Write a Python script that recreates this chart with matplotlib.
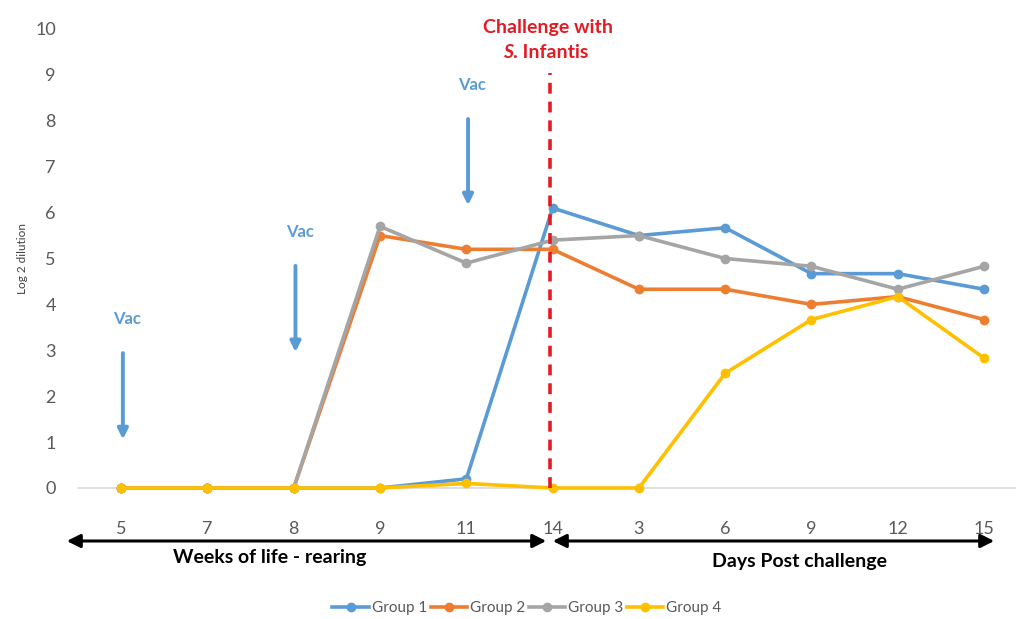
import numpy as np
import matplotlib
matplotlib.use("Agg")
from matplotlib import pyplot as plt

plt.rcParams['font.family'] = ['Lato', 'DejaVu Sans']

# подписи оси X (недели выращивания, затем дни после заражения)
x_labels = ["5", "7", "8", "9", "11", "14", "3", "6", "9", "12", "15"]

group1 = [0, 0, 0, 0, 0.2, 6.1, 5.5, 5.67, 4.67, 4.67, 4.33]
group2 = [0, 0, 0, 5.5, 5.2, 5.2, 4.33, 4.33, 4.0, 4.17, 3.67]
group3 = [0, 0, 0, 5.7, 4.9, 5.4, 5.5, 5.0, 4.83, 4.33, 4.83]
group4 = [0, 0, 0, 0, 0.1, 0, 0, 2.5, 3.67, 4.17, 2.83]

names = ["Group 1", "Group 2", "Group 3", "Group 4"]
colors = ["#5B9BD5", "#ED7D31", "#A5A5A5", "#FFC000"]
vac_idx = [0, 2, 4]
vac_top = [3.0, 4.9, 8.1]

W, H = 1016, 619
fig = plt.figure(figsize=(W / 100, H / 100), dpi=100)
ax = fig.add_axes([78 / W, 1 - 488 / H, (W - 78) / W, (488 - 29) / H])

x = np.arange(len(x_labels))
for data, name, c in zip([group1, group2, group3, group4], names, colors):
    ax.plot(x, data, color=c, lw=2.6, marker='o', ms=6, label=name, clip_on=False, zorder=3)

ax.set_xlim(-0.5, 10.37)
ax.set_ylim(0, 10)
ax.set_yticks(range(0, 11))
ax.set_xticks(x)
ax.set_xticklabels(x_labels)
ax.tick_params(axis='both', length=0, labelsize=13, labelcolor='#595959')
ax.tick_params(axis='x', pad=24)
ax.tick_params(axis='y', pad=16)
for s in ['top', 'right', 'left']:
    ax.spines[s].set_visible(False)
ax.spines['bottom'].set_color('#D9D9D9')
ax.spines['bottom'].set_linewidth(1.2)
ax.set_ylabel("Log 2 dilution", fontsize=8.5, color='#404040', labelpad=5)

# линия заражения
ax.plot([4.97, 4.97], [0, 9.05], color='#E31B23', lw=2.6, ls=(0, (3, 2.2)), zorder=4, clip_on=False)
fig.text(548 / W, 1 - 27 / H, "Challenge with", color='#E31B23', fontsize=14, fontweight='bold',
         ha='center', va='center')
fig.text(513 / W, 1 - 53 / H, "S", color='#E31B23', fontsize=14, fontweight='bold',
         fontstyle='italic', ha='right', va='center')
fig.text(513 / W, 1 - 53 / H, ". Infantis", color='#E31B23', fontsize=14, fontweight='bold',
         ha='left', va='center')

# стрелки вакцинации
for i, top in zip(vac_idx, vac_top):
    ax.annotate("", xy=(i + 0.02, top - 2.0), xytext=(i + 0.02, top),
                arrowprops=dict(arrowstyle='-|>,head_length=0.6,head_width=0.3', color='#5B9BD5', lw=2.8))
    ax.text(i + 0.07, top + 0.68, "Vac", color='#5B9BD5', fontsize=12, fontweight='bold',
            ha='center', va='center')

# нижние стрелки периодов
fig.patches.append(matplotlib.patches.FancyArrowPatch(
    (64, H - 541), (549, H - 541), arrowstyle='<|-|>,head_length=8,head_width=4',
    color='black', lw=2.2, transform=None))
fig.patches.append(matplotlib.patches.FancyArrowPatch(
    (550, H - 541), (997, H - 541), arrowstyle='<|-|>,head_length=8,head_width=4',
    color='black', lw=2.2, transform=None))
fig.text(270 / W, 1 - 557 / H, "Weeks of life - rearing", fontsize=14, fontweight='bold',
         ha='center', va='center')
fig.text(800 / W, 1 - 561 / H, "Days Post challenge", fontsize=14, fontweight='bold',
         ha='center', va='center')

fig.legend(loc='center', bbox_to_anchor=(527 / W, 1 - 608 / H), ncol=4, frameon=False,
           fontsize=11, handlelength=2.4, columnspacing=0.2, handletextpad=0.2,
           labelcolor='#595959')

fig.savefig("out.png", dpi=100)
